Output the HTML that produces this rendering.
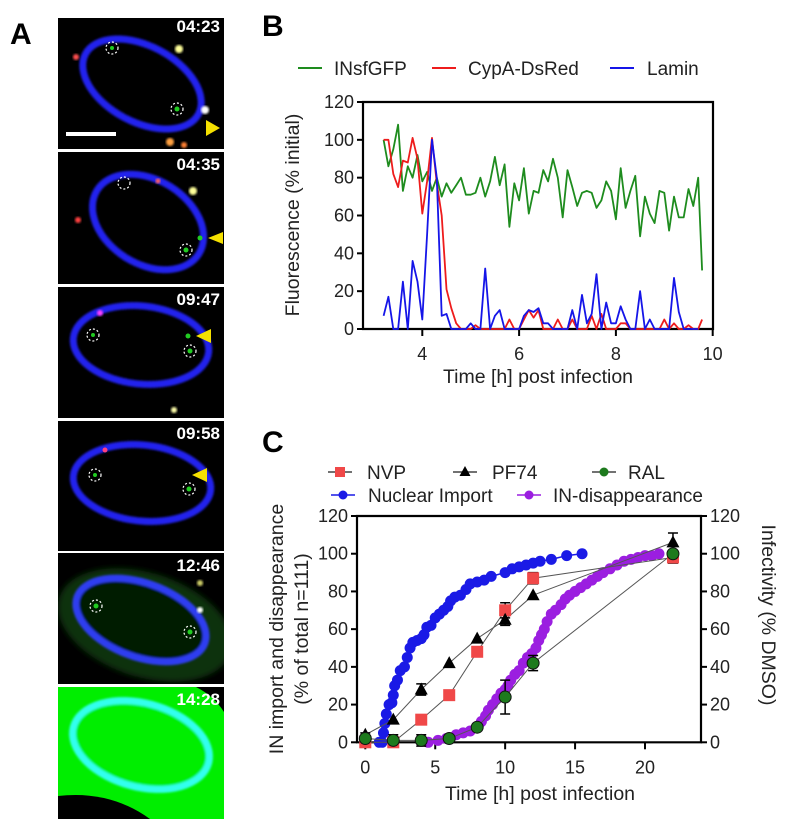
<!DOCTYPE html>
<html><head><meta charset="utf-8">
<style>
html,body{margin:0;padding:0;background:#fff;width:795px;height:832px;overflow:hidden;}
svg{display:block;font-family:"Liberation Sans",Arial,sans-serif;}
</style></head>
<body>
<svg id="fig" width="795" height="832" viewBox="0 0 795 832" xmlns="http://www.w3.org/2000/svg">
<defs>
<filter id="blur1"><feGaussianBlur stdDeviation="3"/></filter>
<filter id="blur2"><feGaussianBlur stdDeviation="1"/></filter>
<clipPath id="t5"><rect x="58" y="553" width="166" height="131"/></clipPath>
</defs>
<text x="10" y="44" font-size="30" font-weight="bold">A</text>
<text x="262" y="36" font-size="30" font-weight="bold">B</text>
<text x="262" y="452" font-size="30" font-weight="bold">C</text>

<g id="panelA">
  <g>
    <rect x="58" y="18" width="166" height="131" fill="#000"/>
    <ellipse cx="142" cy="84" rx="64" ry="38" transform="rotate(28 142 84)" fill="none" stroke="#2323ee" stroke-width="7" filter="url(#blur2)"/>
    <circle cx="179" cy="49" r="4" fill="#ffff99" filter="url(#blur2)"/>
    <circle cx="76" cy="57" r="3" fill="#ff5050" filter="url(#blur2)"/>
    <circle cx="205" cy="110" r="4" fill="#fff" filter="url(#blur2)"/>
    <circle cx="170" cy="142" r="4" fill="#ffa040" filter="url(#blur2)"/>
    <circle cx="184" cy="145" r="3" fill="#ff8030" filter="url(#blur2)"/>
    <circle cx="112" cy="48" r="6" fill="none" stroke="#fff" stroke-width="1.2" stroke-dasharray="2 2"/>
    <circle cx="112" cy="48" r="2" fill="#2c2"/>
    <circle cx="177" cy="109" r="6" fill="none" stroke="#fff" stroke-width="1.2" stroke-dasharray="2 2"/>
    <circle cx="177" cy="109" r="2.5" fill="#2c2"/>
    <polygon points="206,136 220,128 206,120" fill="#f5e000"/>
    <rect x="66" y="132" width="50" height="4" fill="#fff"/>
    <text x="220" y="32" font-size="17" font-weight="bold" fill="#fff" text-anchor="end">04:23</text>
  </g>
  <g>
    <rect x="58" y="152" width="166" height="132" fill="#000"/>
    <ellipse cx="148" cy="222" rx="60" ry="42" transform="rotate(32 148 222)" fill="none" stroke="#2323ee" stroke-width="7" filter="url(#blur2)"/>
    <circle cx="193" cy="191" r="4" fill="#ffff99" filter="url(#blur2)"/>
    <circle cx="78" cy="220" r="3" fill="#ff4040" filter="url(#blur2)"/>
    <circle cx="158" cy="181" r="2.5" fill="#ff6060" filter="url(#blur2)"/>
    <circle cx="200" cy="238" r="2.5" fill="#2c2"/>
    <circle cx="124" cy="183" r="6" fill="none" stroke="#fff" stroke-width="1.2" stroke-dasharray="2 2"/>
    <circle cx="186" cy="250" r="6" fill="none" stroke="#fff" stroke-width="1.2" stroke-dasharray="2 2"/>
    <circle cx="186" cy="250" r="2.5" fill="#2c2"/>
    <polygon points="208,238 223,232 223,244" fill="#f5e000"/>
    <text x="220" y="170" font-size="17" font-weight="bold" fill="#fff" text-anchor="end">04:35</text>
  </g>
  <g>
    <rect x="58" y="287" width="166" height="131" fill="#000"/>
    <ellipse cx="141" cy="345" rx="68" ry="39" transform="rotate(6 141 345)" fill="none" stroke="#2323ee" stroke-width="7" filter="url(#blur2)"/>
    <circle cx="100" cy="313" r="3" fill="#ff40ff" filter="url(#blur2)"/>
    <circle cx="174" cy="410" r="3" fill="#ffffaa" filter="url(#blur2)"/>
    <circle cx="188" cy="336" r="2.5" fill="#2c2"/>
    <circle cx="93" cy="335" r="6" fill="none" stroke="#fff" stroke-width="1.2" stroke-dasharray="2 2"/>
    <circle cx="93" cy="335" r="2" fill="#2c2"/>
    <circle cx="190" cy="351" r="6" fill="none" stroke="#fff" stroke-width="1.2" stroke-dasharray="2 2"/>
    <circle cx="190" cy="351" r="2.5" fill="#2c2"/>
    <polygon points="196,336 211,329 211,343" fill="#f5e000"/>
    <text x="220" y="305" font-size="17" font-weight="bold" fill="#fff" text-anchor="end">09:47</text>
  </g>
  <g>
    <rect x="58" y="421" width="166" height="130" fill="#000"/>
    <ellipse cx="142" cy="483" rx="69" ry="38" transform="rotate(6 142 483)" fill="none" stroke="#2323ee" stroke-width="7" filter="url(#blur2)"/>
    <circle cx="105" cy="450" r="2.5" fill="#ff4080"/>
    <circle cx="95" cy="475" r="6" fill="none" stroke="#fff" stroke-width="1.2" stroke-dasharray="2 2"/>
    <circle cx="95" cy="475" r="2" fill="#2c2"/>
    <circle cx="189" cy="489" r="6" fill="none" stroke="#fff" stroke-width="1.2" stroke-dasharray="2 2"/>
    <circle cx="189" cy="489" r="2.5" fill="#2c2"/>
    <polygon points="192,475 207,468 207,482" fill="#f5e000"/>
    <text x="220" y="439" font-size="17" font-weight="bold" fill="#fff" text-anchor="end">09:58</text>
  </g>
  <g>
    <rect x="58" y="553" width="166" height="131" fill="#000"/>
    <g clip-path="url(#t5)">
      <ellipse cx="145" cy="625" rx="90" ry="52" transform="rotate(18 145 625)" fill="#0c300c" filter="url(#blur1)"/>
    </g>
    <ellipse cx="141" cy="620" rx="68" ry="37" transform="rotate(20 141 620)" fill="#061e06" stroke="#2e3ef0" stroke-width="7" filter="url(#blur2)"/>
    <circle cx="200" cy="583" r="3" fill="#cc6" filter="url(#blur2)"/>
    <circle cx="200" cy="610" r="3" fill="#fff" filter="url(#blur2)"/>
    <circle cx="96" cy="606" r="6" fill="none" stroke="#fff" stroke-width="1.2" stroke-dasharray="2 2"/>
    <circle cx="96" cy="606" r="2.5" fill="#2c2"/>
    <circle cx="190" cy="632" r="6" fill="none" stroke="#fff" stroke-width="1.2" stroke-dasharray="2 2"/>
    <circle cx="190" cy="632" r="2.5" fill="#2c2"/>
    <text x="220" y="571" font-size="17" font-weight="bold" fill="#fff" text-anchor="end">12:46</text>
  </g>
  <g>
    <rect x="58" y="687" width="166" height="132" fill="#00ee00"/>
    <path d="M58,796 Q110,790 150,819 L58,819 Z" fill="#000"/>
    <path d="M196,687 L224,687 L224,712 Q214,696 196,687 Z" fill="#000"/>
    <ellipse cx="141" cy="745" rx="70" ry="42" transform="rotate(15 141 745)" fill="#00ee00" stroke="#33ffee" stroke-width="7" filter="url(#blur2)"/>
    <text x="220" y="705" font-size="17" font-weight="bold" fill="#fff" text-anchor="end">14:28</text>
  </g>
</g>

<g id="panelB"></g>
<g id="panelC"></g>
</svg>
<script>
// ---------- Panel B data ----------
const bTimes=[3.2,3.3,3.4,3.5,3.6,3.7,3.8,3.9,4.0,4.1,4.2,4.3,4.4,4.5,4.6,4.7,4.8,4.9,5.0,5.1,5.2,5.3,5.4,5.5,5.6,5.7,5.8,5.9,6.0,6.1,6.2,6.3,6.4,6.5,6.6,6.7,6.8,6.9,7.0,7.1,7.2,7.3,7.4,7.5,7.6,7.7,7.8,7.9,8.0,8.1,8.2,8.3,8.4,8.5,8.6,8.7,8.8,8.9,9.0,9.1,9.2,9.3,9.4,9.5,9.6,9.7,9.78];
const bGreen=[100,86,95,108,73,86,80,92,78,83,73,80,70,77,72,76,80,71,71,72,80,70,78,91,76,87,54,77,68,85,61,73,72,84,78,90,80,59,84,75,65,72,73,72,64,68,78,73,58,85,64,73,81,49,70,61,56,73,72,52,70,59,59,74,65,80,31];
const bRed=[100,100,82,75,89,88,101,90,61,78,101,77,60,21,11,3,0,0,0,2,0,0,0,0,0,0,5,0,0,5,10,6,10,0,0,0,5,0,0,5,0,0,0,7,0,8,0,0,0,3,3,0,0,0,0,0,0,0,5,0,3,0,0,2,0,0,5];
const bBlue=[7,17,0,0,25,0,36,25,5,50,100,80,7,8,0,0,0,0,3,0,0,32,0,7,10,0,0,0,0,7,10,9,11,3,3,0,0,0,0,10,0,18,3,8,29,0,14,3,3,12,5,0,0,20,0,5,0,0,0,0,27,9,0,0,0,0];
const bYTicks=[0,20,40,60,80,100,120];
const bXTicks=[4,6,8,10];
// ---------- Panel C data ----------
const cTimes=[0,2,4,6,8,10,12,22];
const nvpVals=[0,0,12,25,48,70,87,98];
const nvpErr=[0,0,0,0,0,4,3,3];
const pf74Vals=[4,12,28,42,55,65,78,106];
const pf74Err=[0,0,3,0,0,3,0,5];
const ralVals=[2,1,1,2,8,24,42,100];
const ralErr=[3,3,3,0,0,9,4,4];
const importT=[1.0,1.2,1.3,1.4,1.5,1.7,1.9,2.0,2.1,2.3,2.5,2.8,3.0,3.2,3.4,3.7,4.0,4.2,4.4,4.7,5.0,5.3,5.6,5.9,6.1,6.4,6.8,7.2,7.5,8.0,8.5,9.0,10.0,10.5,11.0,11.5,12.0,12.5,13.3,14.4,15.5];
const importV=[0,0,5,10,15,20,21,25,30,33,38,40,45,50,53,54,55,57,61,62,66,68,70,72,75,77,78,81,84,85,86,88,90,92,93,94,95,96,97,99,100];
const disT=[4.5,5.2,5.8,6.5,7.0,7.5,8.0,8.3,8.6,8.8,9.1,9.4,9.7,10.0,10.2,10.4,10.7,11.0,11.3,11.6,11.9,12.2,12.4,12.6,12.8,13.0,13.3,13.6,14.0,14.3,14.6,15.0,15.4,15.8,16.2,16.6,17.0,17.5,18.0,18.5,19.0,19.5,20.0,20.5,21.0];
const disV=[0,1,2,4,5,6,8,11,14,17,20,23,26,28,30,33,36,38,42,45,47,50,54,57,60,64,68,70,73,76,78,80,82,84,86,88,90,92,94,96,97,98,99,99,100];
const cYTicks=[0,20,40,60,80,100,120];
const cXTicks=[0,5,10,15,20];

const NS='http://www.w3.org/2000/svg';
function mk(parent,tag,attrs,txt){const e=document.createElementNS(NS,tag);for(const k in attrs)e.setAttribute(k,attrs[k]);if(txt!==undefined)e.textContent=txt;parent.appendChild(e);return e;}

(function(){
const g=document.getElementById('panelB');
const L=363,R=713,T=102,B=329;
const x=t=>422.3+(t-4)*(712.7-422.3)/6;
const y=v=>B-v*(B-T)/120;
const fr=mk(g,'path',{d:`M${L},${T}H${R}V${B}H${L}Z`,fill:'none',stroke:'#000','stroke-width':2.2});


bYTicks.forEach(v=>{
  mk(g,'line',{x1:L-6,x2:L,y1:y(v),y2:y(v),stroke:'#000','stroke-width':2});
  const t=mk(g,'text',{x:L-9,y:y(v)+6,'font-size':18,'text-anchor':'end',fill:'#222'},String(v));
  
  
});
bXTicks.forEach(v=>{
  mk(g,'line',{x1:x(v),x2:x(v),y1:B,y2:B+7,stroke:'#000','stroke-width':2});
  const t=mk(g,'text',{x:x(v),y:B+31,'font-size':18,'text-anchor':'middle',fill:'#222'},String(v));
  
  
});
function series(vals,col,name){
  const d=vals.map((v,i)=>(i?'L':'M')+x(bTimes[i]).toFixed(1)+','+y(v).toFixed(1)).join('');
  const p=mk(g,'path',{d:d,fill:'none',stroke:col,'stroke-width':1.8,'stroke-linejoin':'round'});
  
  
}
series(bGreen,'#1e8c1e','insfgfp-line');
series(bRed,'#ee1c1c','cypa-dsred-line');
series(bBlue,'#1515e8','lamin-line');
const yt=mk(g,'text',{x:0,y:0,'font-size':19.5,'text-anchor':'middle',fill:'#222',transform:`translate(299,215) rotate(-90)`},'Fluorescence (% initial)');


const xt=mk(g,'text',{x:538,y:383,'font-size':19.5,'text-anchor':'middle',fill:'#222'},'Time [h] post infection');


const leg=[['INsfGFP','#1e8c1e',298,334],['CypA-DsRed','#ee1c1c',432,468],['Lamin','#1515e8',610,647]];
leg.forEach(l=>{
  const lg=mk(g,'g',{});
  
  
  mk(lg,'line',{x1:l[2],x2:l[2]+24,y1:68,y2:68,stroke:l[1],'stroke-width':2});
  mk(lg,'text',{x:l[3],y:75,'font-size':19,fill:'#222'},l[0]);
});
})();

(function(){
const g=document.getElementById('panelC');
const L=357,R=701,T=516,B=742.3;
const x=t=>365.3+t*(645-365.3)/20;
const y=v=>B-v*(B-T)/120;
const fr=mk(g,'path',{d:`M${L},${T}H${R}V${B}H${L}Z`,fill:'none',stroke:'#000','stroke-width':2.2});


cYTicks.forEach(v=>{
  mk(g,'line',{x1:L-6,x2:L,y1:y(v),y2:y(v),stroke:'#000','stroke-width':2});
  mk(g,'line',{x1:R,x2:R+6,y1:y(v),y2:y(v),stroke:'#000','stroke-width':2});
  const t=mk(g,'text',{x:L-9,y:y(v)+6,'font-size':18,'text-anchor':'end',fill:'#222'},String(v));
  
  
  const t2=mk(g,'text',{x:R+9,y:y(v)+6,'font-size':18,'text-anchor':'start',fill:'#222'},String(v));
  
  
});
cXTicks.forEach(v=>{
  mk(g,'line',{x1:x(v),x2:x(v),y1:B,y2:B+7,stroke:'#000','stroke-width':2});
  const t=mk(g,'text',{x:x(v),y:B+31,'font-size':18,'text-anchor':'middle',fill:'#222'},String(v));
  
  
});
function dots(ts,vs,col,name){
  const gg=mk(g,'g',{});
  
  
  mk(gg,'path',{d:ts.map((t,i)=>(i?'L':'M')+x(t)+','+y(vs[i])).join(''),fill:'none',stroke:col,'stroke-width':1.5});
  ts.forEach((t,i)=>{
    const c=mk(gg,'circle',{cx:x(t),cy:y(vs[i]),r:5.5,fill:col});
    
    
  });
}
dots(importT,importV,'#1a1ae6','nuclear-import-series');
dots(disT,disV,'#9b1ee0','in-disappearance-series');
function drugLine(vals,name){
  const p=mk(g,'path',{d:vals.map((v,i)=>(i?'L':'M')+x(cTimes[i])+','+y(v)).join(''),fill:'none',stroke:'#555','stroke-width':1});
  
  
}
function errBars(vals,errs){
  vals.forEach((v,i)=>{ if(!errs[i])return;
    const cx=x(cTimes[i]);
    mk(g,'path',{d:`M${cx},${y(v-errs[i])}V${y(v+errs[i])}M${cx-5},${y(v-errs[i])}h10M${cx-5},${y(v+errs[i])}h10`,stroke:'#000','stroke-width':1.5,fill:'none'});
  });
}
drugLine(nvpVals,'nvp');drugLine(pf74Vals,'pf74');drugLine(ralVals,'ral');
errBars(nvpVals,nvpErr);errBars(pf74Vals,pf74Err);errBars(ralVals,ralErr);
nvpVals.forEach((v,i)=>{
  const r=mk(g,'rect',{x:x(cTimes[i])-6,y:y(v)-6,width:12,height:12,fill:'#f04848'});
  
  
});
pf74Vals.forEach((v,i)=>{
  const cx=x(cTimes[i]),cy=y(v);
  const p=mk(g,'polygon',{points:`${cx},${cy-7} ${cx+6.5},${cy+5} ${cx-6.5},${cy+5}`,fill:'#000'});
  
  
});
ralVals.forEach((v,i)=>{
  const c=mk(g,'circle',{cx:x(cTimes[i]),cy:y(v),r:6,fill:'#1d7a1d',stroke:'#111','stroke-width':1});
  
  
});
const yt=mk(g,'text',{'font-size':19.5,'text-anchor':'middle',fill:'#222',transform:'translate(283,629) rotate(-90)'},'IN import and disappearance');


const yt2=mk(g,'text',{'font-size':19.5,'text-anchor':'middle',fill:'#222',transform:'translate(308,629) rotate(-90)'},'(% of total n=111)');


const yr=mk(g,'text',{'font-size':19.5,'text-anchor':'middle',fill:'#222',transform:'translate(762,615) rotate(90)'},'Infectivity (% DMSO)');


const xt=mk(g,'text',{x:540,y:800,'font-size':19.5,'text-anchor':'middle',fill:'#222'},'Time [h] post infection');


const legs=[['NVP','sq','#f04848',340,367,472],['PF74','tri','#000',465,492,472],['RAL','cir','#1d7a1d',604,628,472],['Nuclear Import','dot','#1a1ae6',343,368,495],['IN-disappearance','dot','#9b1ee0',529,553,495]];
legs.forEach(l=>{
  const lg=mk(g,'g',{});
  
  
  const cx=l[3],cy=l[5];
  mk(lg,'line',{x1:cx-12,x2:cx+12,y1:cy,y2:cy,stroke:l[1]=='dot'?l[2]:'#444','stroke-width':1.5});
  if(l[1]=='sq')mk(lg,'rect',{x:cx-5,y:cy-5,width:10,height:10,fill:l[2]});
  else if(l[1]=='tri')mk(lg,'polygon',{points:`${cx},${cy-6} ${cx+5.5},${cy+4} ${cx-5.5},${cy+4}`,fill:'#000'});
  else mk(lg,'circle',{cx:cx,cy:cy,r:4.5,fill:l[2]});
  mk(lg,'text',{x:l[4],y:cy+7,'font-size':19,fill:'#222'},l[0]);
});
})();
</script>
</body></html>
